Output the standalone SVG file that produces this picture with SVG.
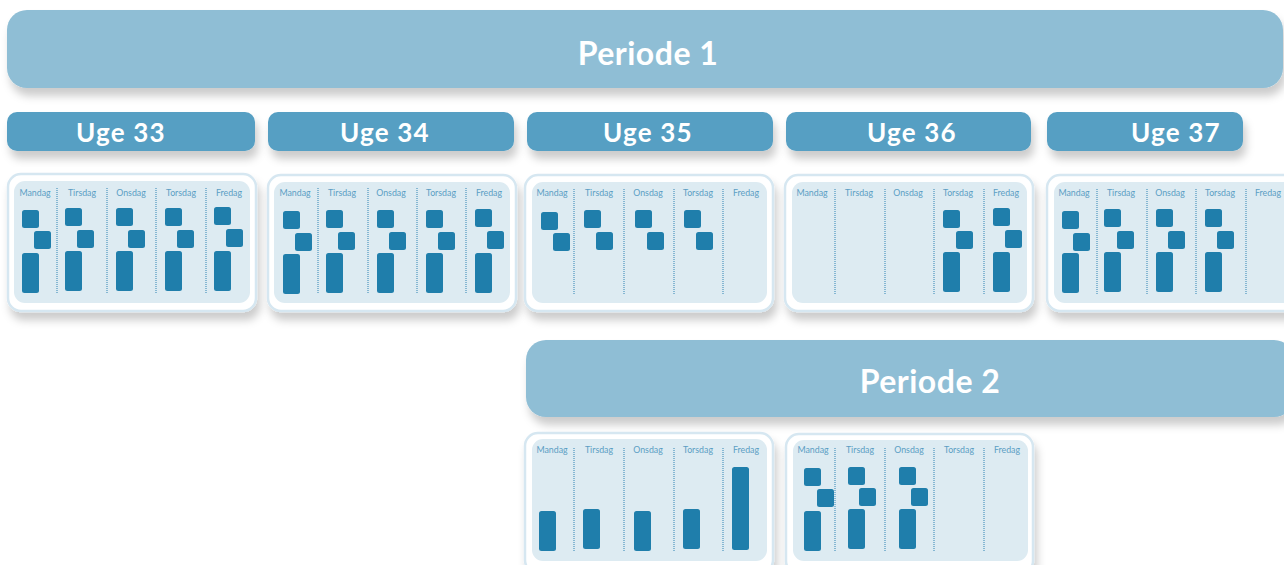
<svg xmlns="http://www.w3.org/2000/svg" width="1284" height="565" viewBox="0 0 1284 565">
<defs>
<filter id="sh" x="-10%" y="-20%" width="120%" height="160%">
<feDropShadow dx="3" dy="8" stdDeviation="4.5" flood-color="#000" flood-opacity="0.2"/>
</filter>
<rect id="sq" width="17" height="18" rx="2.5"/>
<rect id="bar" width="17" height="40" rx="2.5"/>
</defs>
<style>
.per{fill:#8fbed5}
.uge{fill:#569fc3}
.ttl{font-family:Lato,"Liberation Sans",sans-serif;font-weight:bold;fill:#fff;text-anchor:middle}
.outer{fill:#fff;stroke:#d6e7f1;stroke-width:2.5}
.inner{fill:#ddebf2}
.lbl{font-family:Lato,"Liberation Sans",sans-serif;font-size:8.8px;fill:#5b9ec4;text-anchor:middle}
.sep{stroke:#2f83b3;stroke-width:1;stroke-dasharray:1 1;fill:none}
.blk use{fill:#1f7eab}
</style>

<g id="periode1">
<rect class="per" x="7" y="10" width="1276" height="78" rx="20" filter="url(#sh)"/>
<text class="ttl" x="648" y="65" font-size="32" letter-spacing="0.5">Periode 1</text>
</g>

<g id="uge33"><rect class="uge" x="7" y="112" width="248" height="39" rx="10" filter="url(#sh)"/><text class="ttl" x="121" y="142" font-size="26" letter-spacing="1.2">Uge 33</text></g>
<g id="uge34"><rect class="uge" x="268" y="112" width="246" height="39" rx="10" filter="url(#sh)"/><text class="ttl" x="385" y="142" font-size="26" letter-spacing="1.2">Uge 34</text></g>
<g id="uge35"><rect class="uge" x="527" y="112" width="246" height="39" rx="10" filter="url(#sh)"/><text class="ttl" x="648" y="142" font-size="26" letter-spacing="1.2">Uge 35</text></g>
<g id="uge36"><rect class="uge" x="786" y="112" width="245" height="39" rx="10" filter="url(#sh)"/><text class="ttl" x="912" y="142" font-size="26" letter-spacing="1.2">Uge 36</text></g>
<g id="uge37"><rect class="uge" x="1047" y="112" width="196" height="39" rx="10" filter="url(#sh)"/><text class="ttl" x="1176" y="142" font-size="26" letter-spacing="1.2">Uge 37</text></g>

<g id="panel33" transform="translate(8,0)">
<rect class="outer" x="0" y="174" width="248" height="137" rx="13" filter="url(#sh)"/>
<rect class="inner" x="6" y="181" width="236" height="122" rx="11"/>
<g><text class="lbl" x="27" y="196">Mandag</text><text class="lbl" x="74" y="196">Tirsdag</text><text class="lbl" x="123" y="196">Onsdag</text><text class="lbl" x="173" y="196">Torsdag</text><text class="lbl" x="221" y="196">Fredag</text></g>
<path class="sep" d="M49 188V293M99 188V293M148 188V293M198 188V293"/>
<g class="blk">
<use href="#sq" x="14" y="210"/><use href="#sq" x="26" y="231"/><use href="#bar" x="14" y="253"/>
<use href="#sq" x="57" y="208"/><use href="#sq" x="69" y="230"/><use href="#bar" x="57" y="251"/>
<use href="#sq" x="108" y="208"/><use href="#sq" x="120" y="230"/><use href="#bar" x="108" y="251"/>
<use href="#sq" x="157" y="208"/><use href="#sq" x="169" y="230"/><use href="#bar" x="157" y="251"/>
<use href="#sq" x="206" y="207"/><use href="#sq" x="218" y="229"/><use href="#bar" x="206" y="251"/>
</g>
</g>

<g id="panel34" transform="translate(268,0)">
<rect class="outer" x="0" y="175" width="248" height="136" rx="13" filter="url(#sh)"/>
<rect class="inner" x="6" y="182" width="236" height="121" rx="11"/>
<g><text class="lbl" x="27" y="196">Mandag</text><text class="lbl" x="74" y="196">Tirsdag</text><text class="lbl" x="123" y="196">Onsdag</text><text class="lbl" x="173" y="196">Torsdag</text><text class="lbl" x="221" y="196">Fredag</text></g>
<path class="sep" d="M50 188V294M100 188V294M149 188V294M198 188V294"/>
<g class="blk">
<use href="#sq" x="15" y="211"/><use href="#sq" x="27" y="233"/><use href="#bar" x="15" y="254"/>
<use href="#sq" x="58" y="210"/><use href="#sq" x="70" y="232"/><use href="#bar" x="58" y="253"/>
<use href="#sq" x="109" y="210"/><use href="#sq" x="121" y="232"/><use href="#bar" x="109" y="253"/>
<use href="#sq" x="158" y="210"/><use href="#sq" x="170" y="232"/><use href="#bar" x="158" y="253"/>
<use href="#sq" x="207" y="209"/><use href="#sq" x="219" y="231"/><use href="#bar" x="207" y="253"/>
</g>
</g>

<g id="panel35" transform="translate(525,0)">
<rect class="outer" x="0" y="175" width="248" height="136" rx="13" filter="url(#sh)"/>
<rect class="inner" x="7" y="182" width="235" height="121" rx="11"/>
<g><text class="lbl" x="27" y="196">Mandag</text><text class="lbl" x="74" y="196">Tirsdag</text><text class="lbl" x="123" y="196">Onsdag</text><text class="lbl" x="173" y="196">Torsdag</text><text class="lbl" x="221" y="196">Fredag</text></g>
<path class="sep" d="M49 189V294M99 189V294M149 189V294M198 189V294"/>
<g class="blk">
<use href="#sq" x="16" y="212"/><use href="#sq" x="28" y="233"/>
<use href="#sq" x="59" y="210"/><use href="#sq" x="71" y="232"/>
<use href="#sq" x="110" y="210"/><use href="#sq" x="122" y="232"/>
<use href="#sq" x="159" y="210"/><use href="#sq" x="171" y="232"/>
</g>
</g>

<g id="panel36" transform="translate(785,0)">
<rect class="outer" x="0" y="175" width="248" height="136" rx="13" filter="url(#sh)"/>
<rect class="inner" x="7" y="182" width="235" height="121" rx="11"/>
<g><text class="lbl" x="27" y="196">Mandag</text><text class="lbl" x="74" y="196">Tirsdag</text><text class="lbl" x="123" y="196">Onsdag</text><text class="lbl" x="173" y="196">Torsdag</text><text class="lbl" x="221" y="196">Fredag</text></g>
<path class="sep" d="M50 189V294M100 189V294M149 189V294M199 189V294"/>
<g class="blk">
<use href="#sq" x="158" y="210"/><use href="#sq" x="171" y="231"/><use href="#bar" x="158" y="252"/>
<use href="#sq" x="208" y="208"/><use href="#sq" x="220" y="230"/><use href="#bar" x="208" y="252"/>
</g>
</g>

<g id="panel37" transform="translate(1047,0)">
<rect class="outer" x="0" y="175" width="260" height="136" rx="13" filter="url(#sh)"/>
<rect class="inner" x="7" y="182" width="246" height="121" rx="11"/>
<g><text class="lbl" x="27" y="196">Mandag</text><text class="lbl" x="74" y="196">Tirsdag</text><text class="lbl" x="123" y="196">Onsdag</text><text class="lbl" x="173" y="196">Torsdag</text><text class="lbl" x="221" y="196">Fredag</text></g>
<path class="sep" d="M50 189V294M100 189V294M149 189V294M199 189V294"/>
<g class="blk">
<use href="#sq" x="15" y="211"/><use href="#sq" x="26" y="233"/><use href="#bar" x="15" y="253"/>
<use href="#sq" x="57" y="209"/><use href="#sq" x="70" y="231"/><use href="#bar" x="57" y="252"/>
<use href="#sq" x="109" y="209"/><use href="#sq" x="121" y="231"/><use href="#bar" x="109" y="252"/>
<use href="#sq" x="158" y="209"/><use href="#sq" x="170" y="231"/><use href="#bar" x="158" y="252"/>
</g>
</g>

<g id="periode2">
<rect class="per" x="526" y="340" width="768" height="77" rx="20" filter="url(#sh)"/>
<text class="ttl" x="930" y="393" font-size="32" letter-spacing="0.5">Periode 2</text>
</g>

<g id="panelP2a" transform="translate(525,0)">
<rect class="outer" x="0" y="433" width="248" height="140" rx="13" filter="url(#sh)"/>
<rect class="inner" x="7" y="439" width="235" height="122" rx="11"/>
<g><text class="lbl" x="27" y="453">Mandag</text><text class="lbl" x="74" y="453">Tirsdag</text><text class="lbl" x="123" y="453">Onsdag</text><text class="lbl" x="173" y="453">Torsdag</text><text class="lbl" x="221" y="453">Fredag</text></g>
<path class="sep" d="M49 448V552M99 448V552M149 448V552M198 448V552"/>
<g class="blk">
<use href="#bar" x="14" y="511"/>
<use href="#bar" x="58" y="509"/>
<use href="#bar" x="109" y="511"/>
<use href="#bar" x="158" y="509"/>
<rect x="207" y="467" width="17" height="83" rx="2.5" fill="#1f7eab"/>
</g>
</g>

<g id="panelP2b" transform="translate(786,0)">
<rect class="outer" x="0" y="434" width="247" height="140" rx="13" filter="url(#sh)"/>
<rect class="inner" x="7" y="440" width="235" height="121" rx="11"/>
<g><text class="lbl" x="27" y="453">Mandag</text><text class="lbl" x="74" y="453">Tirsdag</text><text class="lbl" x="123" y="453">Onsdag</text><text class="lbl" x="173" y="453">Torsdag</text><text class="lbl" x="221" y="453">Fredag</text></g>
<path class="sep" d="M49 448V552M99 448V552M148 448V552M198 448V552"/>
<g class="blk">
<use href="#sq" x="18" y="468"/><use href="#sq" x="31" y="489"/><use href="#bar" x="18" y="511"/>
<use href="#sq" x="62" y="467"/><use href="#sq" x="73" y="488"/><use href="#bar" x="62" y="509"/>
<use href="#sq" x="113" y="467"/><use href="#sq" x="125" y="488"/><use href="#bar" x="113" y="509"/>
</g>
</g>
</svg>
